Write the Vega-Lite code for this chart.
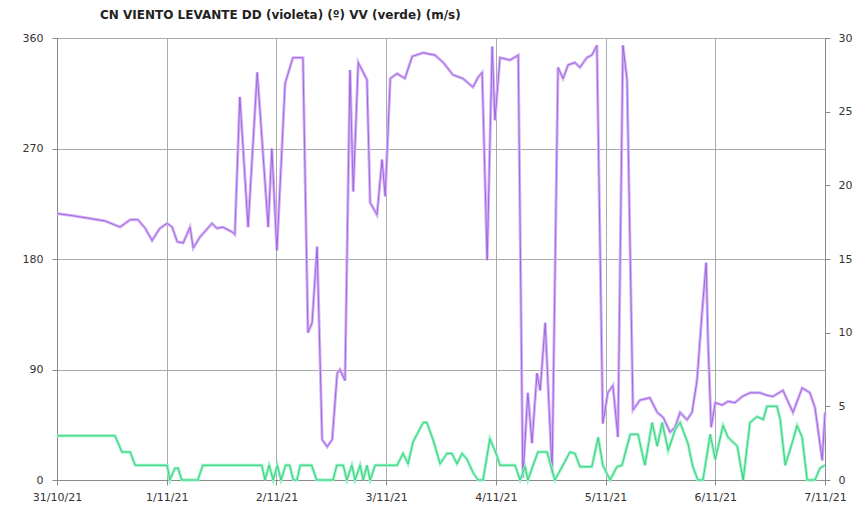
{
  "$schema": "https://vega.github.io/schema/vega-lite/v6.json",
  "width": 768,
  "height": 442,
  "autosize": {"type": "none"},
  "padding": {"left": 57, "top": 38, "right": 30, "bottom": 40},
  "background": "white",
  "title": {
    "text": "CN VIENTO LEVANTE DD (violeta) (º)  VV  (verde) (m/s)",
    "anchor": "start",
    "frame": "group",
    "dx": 43,
    "offset": 10,
    "font": "DejaVu Sans",
    "fontSize": 12,
    "fontWeight": "bold",
    "color": "#222222"
  },
  "config": {
    "view": {"stroke": "#8a8a8a", "strokeWidth": 1},
    "axis": {
      "labelFont": "DejaVu Sans",
      "labelFontSize": 11,
      "labelColor": "#333333",
      "domainColor": "#8a8a8a",
      "tickColor": "#8a8a8a",
      "gridColor": "#ababab",
      "gridWidth": 1,
      "tickSize": 5,
      "title": null
    }
  },
  "datasets": {
    "dd": [
      {"t": "2021-10-31T00:00:00Z", "dd": 217},
      {"t": "2021-10-31T03:54:00Z", "dd": 215},
      {"t": "2021-10-31T07:12:00Z", "dd": 213},
      {"t": "2021-10-31T10:30:00Z", "dd": 211},
      {"t": "2021-10-31T13:48:00Z", "dd": 206},
      {"t": "2021-10-31T16:00:00Z", "dd": 212},
      {"t": "2021-10-31T17:42:00Z", "dd": 212},
      {"t": "2021-10-31T19:18:00Z", "dd": 205},
      {"t": "2021-10-31T20:48:00Z", "dd": 195},
      {"t": "2021-10-31T22:30:00Z", "dd": 205},
      {"t": "2021-11-01T00:06:00Z", "dd": 209},
      {"t": "2021-11-01T01:12:00Z", "dd": 206},
      {"t": "2021-11-01T02:18:00Z", "dd": 194},
      {"t": "2021-11-01T03:36:00Z", "dd": 193},
      {"t": "2021-11-01T05:06:00Z", "dd": 206},
      {"t": "2021-11-01T05:48:00Z", "dd": 189},
      {"t": "2021-11-01T07:18:00Z", "dd": 198},
      {"t": "2021-11-01T09:54:00Z", "dd": 209},
      {"t": "2021-11-01T11:00:00Z", "dd": 205},
      {"t": "2021-11-01T12:18:00Z", "dd": 206},
      {"t": "2021-11-01T14:18:00Z", "dd": 202},
      {"t": "2021-11-01T14:54:00Z", "dd": 200},
      {"t": "2021-11-01T16:00:00Z", "dd": 312},
      {"t": "2021-11-01T17:48:00Z", "dd": 206},
      {"t": "2021-11-01T19:48:00Z", "dd": 332},
      {"t": "2021-11-01T20:24:00Z", "dd": 301},
      {"t": "2021-11-01T22:12:00Z", "dd": 206},
      {"t": "2021-11-01T23:00:00Z", "dd": 270},
      {"t": "2021-11-02T00:06:00Z", "dd": 187},
      {"t": "2021-11-02T01:54:00Z", "dd": 323},
      {"t": "2021-11-02T03:36:00Z", "dd": 344},
      {"t": "2021-11-02T05:48:00Z", "dd": 344},
      {"t": "2021-11-02T06:54:00Z", "dd": 120},
      {"t": "2021-11-02T07:48:00Z", "dd": 128},
      {"t": "2021-11-02T08:54:00Z", "dd": 190},
      {"t": "2021-11-02T10:00:00Z", "dd": 33},
      {"t": "2021-11-02T11:06:00Z", "dd": 27},
      {"t": "2021-11-02T12:12:00Z", "dd": 33},
      {"t": "2021-11-02T13:18:00Z", "dd": 87},
      {"t": "2021-11-02T13:54:00Z", "dd": 90},
      {"t": "2021-11-02T15:00:00Z", "dd": 81},
      {"t": "2021-11-02T16:06:00Z", "dd": 334},
      {"t": "2021-11-02T16:48:00Z", "dd": 235},
      {"t": "2021-11-02T17:54:00Z", "dd": 340},
      {"t": "2021-11-02T19:48:00Z", "dd": 326},
      {"t": "2021-11-02T20:30:00Z", "dd": 226},
      {"t": "2021-11-02T22:00:00Z", "dd": 216},
      {"t": "2021-11-02T23:06:00Z", "dd": 261},
      {"t": "2021-11-02T23:48:00Z", "dd": 231},
      {"t": "2021-11-03T00:54:00Z", "dd": 327},
      {"t": "2021-11-03T02:24:00Z", "dd": 331},
      {"t": "2021-11-03T04:06:00Z", "dd": 327},
      {"t": "2021-11-03T05:42:00Z", "dd": 345},
      {"t": "2021-11-03T08:06:00Z", "dd": 348},
      {"t": "2021-11-03T10:42:00Z", "dd": 346},
      {"t": "2021-11-03T12:30:00Z", "dd": 340},
      {"t": "2021-11-03T14:36:00Z", "dd": 330},
      {"t": "2021-11-03T16:48:00Z", "dd": 327},
      {"t": "2021-11-03T19:00:00Z", "dd": 320},
      {"t": "2021-11-03T20:06:00Z", "dd": 328},
      {"t": "2021-11-03T21:00:00Z", "dd": 332},
      {"t": "2021-11-03T22:06:00Z", "dd": 179},
      {"t": "2021-11-03T23:12:00Z", "dd": 353},
      {"t": "2021-11-03T23:48:00Z", "dd": 293},
      {"t": "2021-11-04T00:54:00Z", "dd": 344},
      {"t": "2021-11-04T03:06:00Z", "dd": 342},
      {"t": "2021-11-04T04:54:00Z", "dd": 346},
      {"t": "2021-11-04T05:54:00Z", "dd": 2},
      {"t": "2021-11-04T07:00:00Z", "dd": 71},
      {"t": "2021-11-04T07:54:00Z", "dd": 30},
      {"t": "2021-11-04T09:00:00Z", "dd": 87},
      {"t": "2021-11-04T09:42:00Z", "dd": 73},
      {"t": "2021-11-04T10:48:00Z", "dd": 128},
      {"t": "2021-11-04T12:18:00Z", "dd": 6},
      {"t": "2021-11-04T13:36:00Z", "dd": 336},
      {"t": "2021-11-04T14:42:00Z", "dd": 327},
      {"t": "2021-11-04T15:48:00Z", "dd": 338},
      {"t": "2021-11-04T17:18:00Z", "dd": 340},
      {"t": "2021-11-04T18:24:00Z", "dd": 336},
      {"t": "2021-11-04T19:54:00Z", "dd": 344},
      {"t": "2021-11-04T21:00:00Z", "dd": 346},
      {"t": "2021-11-04T22:06:00Z", "dd": 354},
      {"t": "2021-11-04T23:24:00Z", "dd": 46},
      {"t": "2021-11-05T00:30:00Z", "dd": 71},
      {"t": "2021-11-05T01:36:00Z", "dd": 77},
      {"t": "2021-11-05T02:42:00Z", "dd": 35},
      {"t": "2021-11-05T03:48:00Z", "dd": 354},
      {"t": "2021-11-05T04:42:00Z", "dd": 326},
      {"t": "2021-11-05T06:00:00Z", "dd": 57},
      {"t": "2021-11-05T07:30:00Z", "dd": 65},
      {"t": "2021-11-05T09:42:00Z", "dd": 67},
      {"t": "2021-11-05T11:18:00Z", "dd": 55},
      {"t": "2021-11-05T12:36:00Z", "dd": 51},
      {"t": "2021-11-05T14:06:00Z", "dd": 39},
      {"t": "2021-11-05T15:12:00Z", "dd": 43},
      {"t": "2021-11-05T16:18:00Z", "dd": 55},
      {"t": "2021-11-05T17:48:00Z", "dd": 49},
      {"t": "2021-11-05T18:54:00Z", "dd": 55},
      {"t": "2021-11-05T20:00:00Z", "dd": 81},
      {"t": "2021-11-05T21:06:00Z", "dd": 136},
      {"t": "2021-11-05T22:00:00Z", "dd": 177},
      {"t": "2021-11-05T22:24:00Z", "dd": 114},
      {"t": "2021-11-05T23:06:00Z", "dd": 43},
      {"t": "2021-11-06T00:00:00Z", "dd": 63},
      {"t": "2021-11-06T01:30:00Z", "dd": 61},
      {"t": "2021-11-06T02:48:00Z", "dd": 64},
      {"t": "2021-11-06T04:18:00Z", "dd": 63},
      {"t": "2021-11-06T05:54:00Z", "dd": 68},
      {"t": "2021-11-06T07:36:00Z", "dd": 71},
      {"t": "2021-11-06T09:48:00Z", "dd": 71},
      {"t": "2021-11-06T11:18:00Z", "dd": 69},
      {"t": "2021-11-06T12:36:00Z", "dd": 68},
      {"t": "2021-11-06T14:48:00Z", "dd": 73},
      {"t": "2021-11-06T17:00:00Z", "dd": 55},
      {"t": "2021-11-06T19:00:00Z", "dd": 75},
      {"t": "2021-11-06T20:42:00Z", "dd": 71},
      {"t": "2021-11-06T21:48:00Z", "dd": 59},
      {"t": "2021-11-06T23:24:00Z", "dd": 16},
      {"t": "2021-11-07T00:00:00Z", "dd": 55}
    ],
    "vv": [
      {"t": "2021-10-31T00:00:00Z", "vv": 3.0},
      {"t": "2021-10-31T12:42:00Z", "vv": 3.0},
      {"t": "2021-10-31T14:12:00Z", "vv": 1.9},
      {"t": "2021-10-31T16:00:00Z", "vv": 1.9},
      {"t": "2021-10-31T17:06:00Z", "vv": 1.0},
      {"t": "2021-11-01T00:06:00Z", "vv": 1.0},
      {"t": "2021-11-01T00:42:00Z", "vv": 0},
      {"t": "2021-11-01T01:48:00Z", "vv": 0.8},
      {"t": "2021-11-01T02:30:00Z", "vv": 0.8},
      {"t": "2021-11-01T03:18:00Z", "vv": 0},
      {"t": "2021-11-01T06:48:00Z", "vv": 0},
      {"t": "2021-11-01T07:54:00Z", "vv": 1.0},
      {"t": "2021-11-01T20:48:00Z", "vv": 1.0},
      {"t": "2021-11-01T21:30:00Z", "vv": 0},
      {"t": "2021-11-01T22:24:00Z", "vv": 1.0},
      {"t": "2021-11-01T23:18:00Z", "vv": 0},
      {"t": "2021-11-02T00:12:00Z", "vv": 1.0},
      {"t": "2021-11-02T01:00:00Z", "vv": 0},
      {"t": "2021-11-02T02:00:00Z", "vv": 1.0},
      {"t": "2021-11-02T02:54:00Z", "vv": 1.0},
      {"t": "2021-11-02T03:42:00Z", "vv": 0},
      {"t": "2021-11-02T04:30:00Z", "vv": 0},
      {"t": "2021-11-02T05:12:00Z", "vv": 1.0},
      {"t": "2021-11-02T07:42:00Z", "vv": 1.0},
      {"t": "2021-11-02T08:48:00Z", "vv": 0},
      {"t": "2021-11-02T12:24:00Z", "vv": 0},
      {"t": "2021-11-02T13:12:00Z", "vv": 1.0},
      {"t": "2021-11-02T14:36:00Z", "vv": 1.0},
      {"t": "2021-11-02T15:24:00Z", "vv": 0},
      {"t": "2021-11-02T16:30:00Z", "vv": 1.0},
      {"t": "2021-11-02T17:12:00Z", "vv": 0},
      {"t": "2021-11-02T18:18:00Z", "vv": 1.0},
      {"t": "2021-11-02T19:00:00Z", "vv": 0},
      {"t": "2021-11-02T19:48:00Z", "vv": 1.0},
      {"t": "2021-11-02T20:30:00Z", "vv": 0},
      {"t": "2021-11-02T21:36:00Z", "vv": 1.0},
      {"t": "2021-11-03T02:24:00Z", "vv": 1.0},
      {"t": "2021-11-03T03:42:00Z", "vv": 1.8},
      {"t": "2021-11-03T04:48:00Z", "vv": 1.1},
      {"t": "2021-11-03T05:54:00Z", "vv": 2.6},
      {"t": "2021-11-03T08:06:00Z", "vv": 3.9},
      {"t": "2021-11-03T08:54:00Z", "vv": 3.9},
      {"t": "2021-11-03T10:18:00Z", "vv": 2.7},
      {"t": "2021-11-03T11:48:00Z", "vv": 1.1},
      {"t": "2021-11-03T13:18:00Z", "vv": 1.8},
      {"t": "2021-11-03T14:24:00Z", "vv": 1.8},
      {"t": "2021-11-03T15:30:00Z", "vv": 1.1},
      {"t": "2021-11-03T16:36:00Z", "vv": 1.8},
      {"t": "2021-11-03T17:42:00Z", "vv": 1.4},
      {"t": "2021-11-03T19:00:00Z", "vv": 0.5},
      {"t": "2021-11-03T20:06:00Z", "vv": 0},
      {"t": "2021-11-03T21:12:00Z", "vv": 0},
      {"t": "2021-11-03T22:42:00Z", "vv": 2.8},
      {"t": "2021-11-04T00:18:00Z", "vv": 1.6},
      {"t": "2021-11-04T00:54:00Z", "vv": 1.0},
      {"t": "2021-11-04T04:12:00Z", "vv": 1.0},
      {"t": "2021-11-04T05:18:00Z", "vv": 0},
      {"t": "2021-11-04T06:24:00Z", "vv": 0.9},
      {"t": "2021-11-04T07:00:00Z", "vv": 0},
      {"t": "2021-11-04T09:12:00Z", "vv": 1.9},
      {"t": "2021-11-04T11:12:00Z", "vv": 1.9},
      {"t": "2021-11-04T12:54:00Z", "vv": 0},
      {"t": "2021-11-04T14:30:00Z", "vv": 0.9},
      {"t": "2021-11-04T16:12:00Z", "vv": 1.9},
      {"t": "2021-11-04T17:18:00Z", "vv": 1.8},
      {"t": "2021-11-04T18:24:00Z", "vv": 0.9},
      {"t": "2021-11-04T21:00:00Z", "vv": 0.9},
      {"t": "2021-11-04T22:24:00Z", "vv": 2.9},
      {"t": "2021-11-04T23:24:00Z", "vv": 1.0},
      {"t": "2021-11-05T01:00:00Z", "vv": 0},
      {"t": "2021-11-05T02:30:00Z", "vv": 0.9},
      {"t": "2021-11-05T03:36:00Z", "vv": 1.0},
      {"t": "2021-11-05T05:24:00Z", "vv": 3.1},
      {"t": "2021-11-05T07:06:00Z", "vv": 3.1},
      {"t": "2021-11-05T08:36:00Z", "vv": 1.0},
      {"t": "2021-11-05T10:12:00Z", "vv": 3.9},
      {"t": "2021-11-05T11:18:00Z", "vv": 2.3},
      {"t": "2021-11-05T12:24:00Z", "vv": 3.9},
      {"t": "2021-11-05T13:42:00Z", "vv": 2.0},
      {"t": "2021-11-05T15:12:00Z", "vv": 3.4},
      {"t": "2021-11-05T16:18:00Z", "vv": 3.9},
      {"t": "2021-11-05T18:00:00Z", "vv": 2.5},
      {"t": "2021-11-05T19:06:00Z", "vv": 0.9},
      {"t": "2021-11-05T20:12:00Z", "vv": 0},
      {"t": "2021-11-05T21:18:00Z", "vv": 0},
      {"t": "2021-11-05T22:54:00Z", "vv": 3.1},
      {"t": "2021-11-06T00:00:00Z", "vv": 1.4},
      {"t": "2021-11-06T01:42:00Z", "vv": 3.7},
      {"t": "2021-11-06T02:48:00Z", "vv": 2.9},
      {"t": "2021-11-06T04:48:00Z", "vv": 2.3},
      {"t": "2021-11-06T06:06:00Z", "vv": 0},
      {"t": "2021-11-06T07:36:00Z", "vv": 3.9},
      {"t": "2021-11-06T09:06:00Z", "vv": 4.3},
      {"t": "2021-11-06T10:30:00Z", "vv": 4.1},
      {"t": "2021-11-06T11:18:00Z", "vv": 5.0},
      {"t": "2021-11-06T13:30:00Z", "vv": 5.0},
      {"t": "2021-11-06T14:12:00Z", "vv": 4.1},
      {"t": "2021-11-06T15:18:00Z", "vv": 1.0},
      {"t": "2021-11-06T16:48:00Z", "vv": 2.5},
      {"t": "2021-11-06T17:54:00Z", "vv": 3.7},
      {"t": "2021-11-06T19:00:00Z", "vv": 2.9},
      {"t": "2021-11-06T20:06:00Z", "vv": 0},
      {"t": "2021-11-06T21:48:00Z", "vv": 0},
      {"t": "2021-11-06T22:54:00Z", "vv": 0.8},
      {"t": "2021-11-07T00:00:00Z", "vv": 1.0}
    ]
  },
  "layer": [
    {
      "data": {"name": "dd"},
      "encoding": {
        "x": {
          "field": "t",
          "type": "temporal",
          "scale": {"type": "utc", "domain": [{"year": 2021, "month": 10, "date": 31, "utc": true}, {"year": 2021, "month": 11, "date": 7, "utc": true}]},
          "axis": {
            "values": [
              {"year": 2021, "month": 10, "date": 31, "utc": true},
              {"year": 2021, "month": 11, "date": 1, "utc": true},
              {"year": 2021, "month": 11, "date": 2, "utc": true},
              {"year": 2021, "month": 11, "date": 3, "utc": true},
              {"year": 2021, "month": 11, "date": 4, "utc": true},
              {"year": 2021, "month": 11, "date": 5, "utc": true},
              {"year": 2021, "month": 11, "date": 6, "utc": true},
              {"year": 2021, "month": 11, "date": 7, "utc": true}
            ],
            "format": "%-d/%-m/%y",
            "labelPadding": 6,
            "labelFlush": false,
            "labelOverlap": false,
            "grid": true
          }
        },
        "y": {
          "field": "dd",
          "type": "quantitative",
          "scale": {"domain": [0, 360], "nice": false},
          "axis": {"orient": "left", "values": [0, 90, 180, 270, 360], "grid": true, "labelPadding": 9}
        }
      },
      "layer": [
        {"mark": {"type": "line", "color": "#d6b4f7", "strokeWidth": 3}},
        {"mark": {"type": "line", "color": "#9760da", "strokeWidth": 0.9}}
      ]
    },
    {
      "data": {"name": "vv"},
      "encoding": {
        "x": {"field": "t", "type": "temporal"},
        "y": {
          "field": "vv",
          "type": "quantitative",
          "scale": {"domain": [0, 30], "nice": false},
          "axis": {"orient": "right", "values": [0, 5, 10, 15, 20, 25, 30], "grid": false, "labelPadding": 8}
        }
      },
      "layer": [
        {"mark": {"type": "line", "color": "#93f3c2", "strokeWidth": 3}},
        {"mark": {"type": "line", "color": "#34c97a", "strokeWidth": 0.9}}
      ]
    }
  ],
  "resolve": {"scale": {"y": "independent"}}
}
